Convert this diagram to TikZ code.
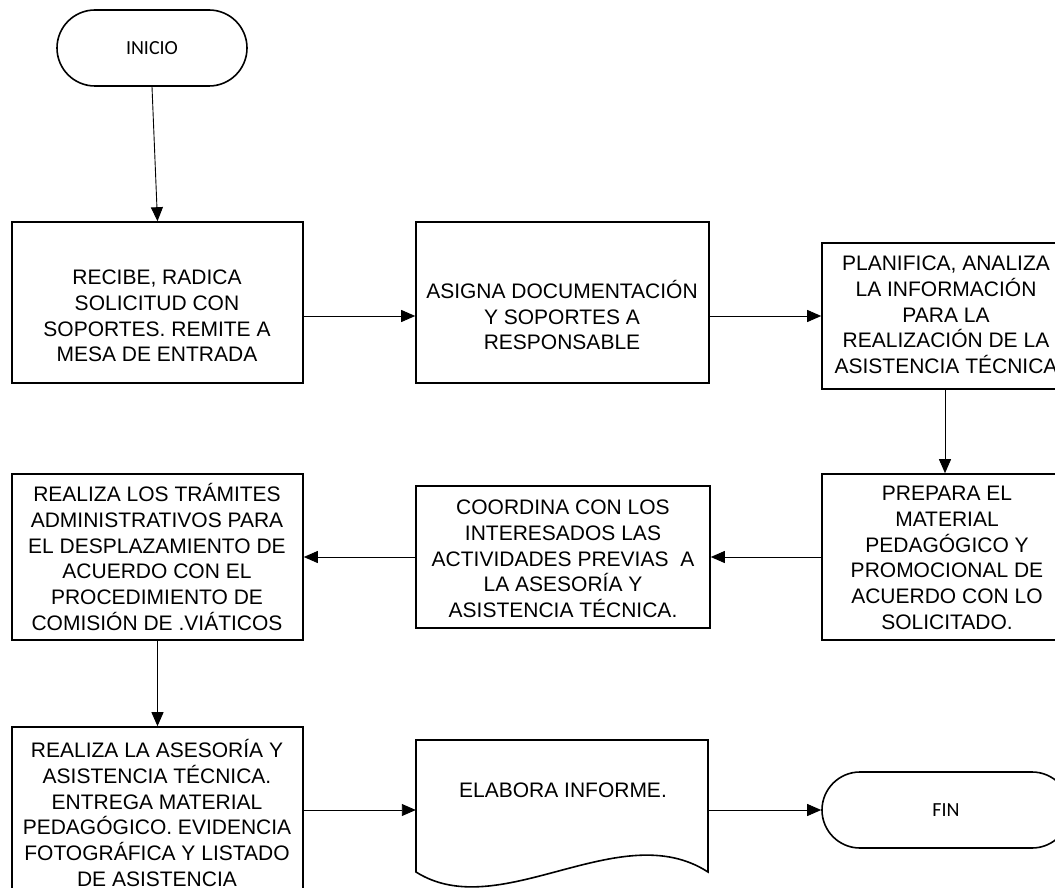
\documentclass[tikz,border=0pt]{standalone}
\usepackage{fontspec}
\setmainfont{Liberation Sans}
\newfontfamily\termfont{Carlito}
\usetikzlibrary{arrows.meta}
\begin{document}
\begin{tikzpicture}[x=1pt,y=-1pt,
  procbox/.style={draw, line width=1.6pt, rectangle, inner sep=0pt},
  txt/.style={align=center, font=\fontsize{21}{25.7}\selectfont, inner sep=0pt},
  term/.style={draw, line width=1.6pt, rounded corners=38pt, minimum height=76pt,
    font=\termfont\fontsize{20}{24}\selectfont},
  arr/.style={line width=0.9pt, -{Triangle[length=14pt,width=12pt]}},
  shapeline/.style={line width=1.6pt}
]
\useasboundingbox (0,0) rectangle (1055,888);
\clip (0,0) rectangle (1055,888);

% terminals
\node[term, minimum width=190pt] (ini) at (152,48) {INICIO};
\node[term, minimum width=248pt] (fin) at (946,810) {FIN};

% process boxes
\node[procbox, minimum width=291pt, minimum height=161pt] (b1) at (157.5,302.5) {};
\node[procbox, minimum width=293pt, minimum height=161pt] (b2) at (562.5,302.5) {};
\node[procbox, minimum width=246pt, minimum height=146pt] (b3) at (945,316) {};
\node[procbox, minimum width=246pt, minimum height=166pt] (b4) at (945,557) {};
\node[procbox, minimum width=294pt, minimum height=142pt] (b5) at (563,557) {};
\node[procbox, minimum width=291pt, minimum height=166pt] (b6) at (157.5,557) {};
\node[procbox, minimum width=291pt, minimum height=166pt] (b7) at (157.5,810) {};

% document shape
\node[minimum width=292pt, minimum height=140pt, inner sep=0pt] (doc) at (562,810) {};
\draw[shapeline] (416,740) -- (708,740) -- (708,872)
  .. controls (620,815) and (500,925) .. (416,872) -- cycle;

% texts
\node[txt] (t1) at (157,316) {RECIBE, RADICA\\SOLICITUD CON\\SOPORTES. REMITE A\\MESA DE ENTRADA};
\node[txt] (t2) at (562,315) {ASIGNA DOCUMENTACIÓN\\Y SOPORTES A\\RESPONSABLE};
\node[txt] (t3) at (946,315) {PLANIFICA, ANALIZA\\LA INFORMACIÓN\\PARA LA\\REALIZACIÓN DE LA\\ASISTENCIA TÉCNICA};
\node[txt] (t4) at (947,558) {PREPARA EL\\MATERIAL\\PEDAGÓGICO Y\\PROMOCIONAL DE\\ACUERDO CON LO\\SOLICITADO.};
\node[txt] (t5) at (563,559) {COORDINA CON LOS\\INTERESADOS LAS\\ACTIVIDADES PREVIAS\ \ A\\LA ASESORÍA Y\\ASISTENCIA TÉCNICA.};
\node[txt] (t6) at (157,557) {REALIZA LOS TRÁMITES\\ADMINISTRATIVOS PARA\\EL DESPLAZAMIENTO DE\\ACUERDO CON EL\\PROCEDIMIENTO DE\\COMISIÓN DE .VIÁTICOS};
\node[txt] (t7) at (157,813) {REALIZA LA ASESORÍA Y\\ASISTENCIA TÉCNICA.\\ENTREGA MATERIAL\\PEDAGÓGICO. EVIDENCIA\\FOTOGRÁFICA Y LISTADO\\DE ASISTENCIA};
\node[txt] (t8) at (563,790) {ELABORA INFORME.};

% connectors
\draw[arr] (ini.south) -- (b1.north);
\draw[arr] ([yshift=-13.5pt]b1.east) -- ([yshift=-13.5pt]b2.west);
\draw[arr] ([yshift=-13.5pt]b2.east) -- (b3.west);
\draw[arr] (b3.south) -- (b4.north);
\draw[arr] (b4.west) -- (b5.east);
\draw[arr] (b5.west) -- (b6.east);
\draw[arr] (b6.south) -- (b7.north);
\draw[arr] (b7.east) -- (doc.west);
\draw[arr] (doc.east) -- (fin.west);
\end{tikzpicture}
\end{document}
